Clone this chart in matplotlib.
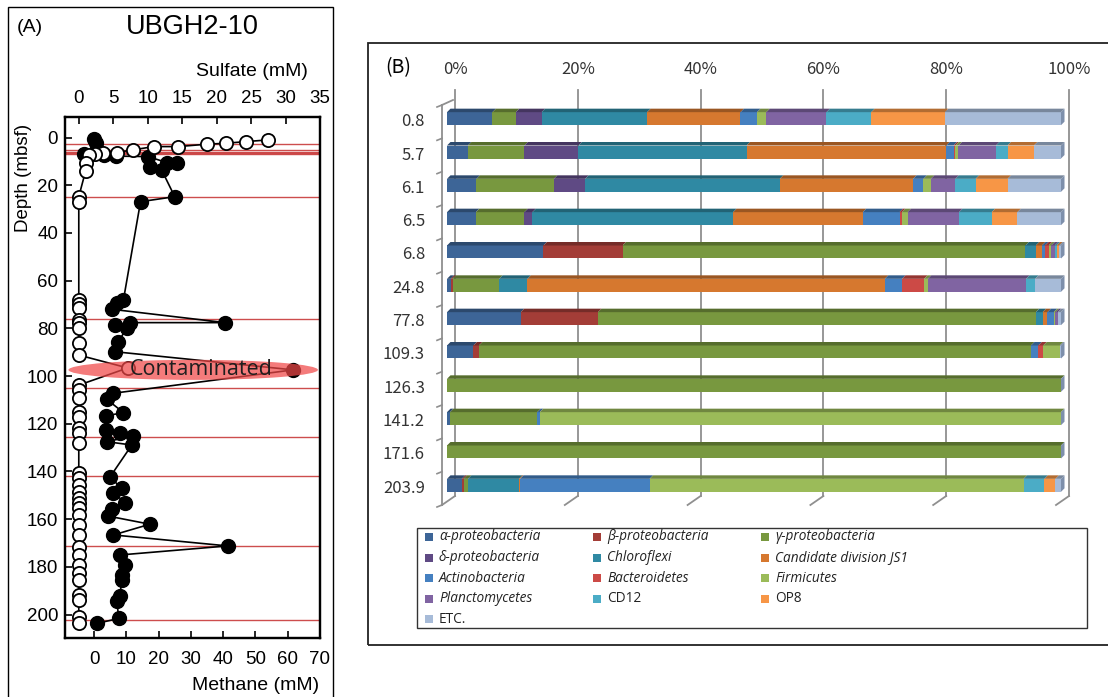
import matplotlib
matplotlib.use("Agg")
import matplotlib.pyplot as plt
from matplotlib.patches import Rectangle, Polygon, Ellipse
import numpy as np

W, H = 1108, 697

# ---------------- Panel A data: porewater profiles (UBGH2-10) ----------------
sulfate_depth = [1.0, 1.7, 2.4, 2.8, 3.8, 3.8, 5.2, 6.3, 6.6, 6.9, 7.3, 10.7, 13.9,
                 24.8, 26.9, 68.0, 69.8, 71.5, 76.5, 77.8, 79.8, 86.0, 91.2, 96.6,
                 103.8, 105.8, 109.0, 114.9, 117.0, 121.8, 124.0, 128.0, 140.6, 142.7,
                 145.7, 148.5, 151.2, 153.3, 155.4, 158.3, 162.5, 166.7, 171.5, 175.0,
                 179.2, 182.6, 185.5, 191.8, 193.9, 200.8, 203.6]
sulfate_mM = [27.5, 24.3, 21.4, 18.6, 14.4, 10.9, 7.8, 5.5, 3.5, 2.3, 1.5, 1.0, 1.0,
              0.0, 0.0, 0.0, 0.0, 0.0, 0.0, 0.0, 0.0, 0.0, 0.0, 7.1,
              0.0, 0.0, 0.0, 0.0, 0.0, 0.0, 0.0, 0.0, 0.0, 0.0,
              0.0, 0.0, 0.0, 0.0, 0.0, 0.0, 0.0, 0.0, 0.0, 0.0,
              0.0, 0.0, 0.0, 0.0, 0.0, 0.0, 0.0]

methane_depth = [0.7, 2.5, 7.0, 7.4, 7.8, 8.0, 10.5, 10.8, 12.2, 13.5, 24.8, 26.9,
                 68.1, 69.5, 72.0, 77.6, 77.6, 78.6, 80.0, 85.6, 89.8, 97.4,
                 107.2, 109.7, 115.3, 116.7, 122.6, 123.7, 125.1, 127.5, 128.9,
                 142.4, 147.0, 148.9, 153.1, 155.9, 158.7, 162.1, 166.6, 171.2,
                 175.0, 179.2, 183.4, 185.5, 192.2, 194.2, 201.6, 203.7]
methane_mM = [0.1, 0.5, -3.0, 3.0, 6.9, 16.8, 22.5, 25.6, 17.3, 20.9, 25.0, 14.4,
              9.1, 7.0, 5.5, 40.6, 11.1, 6.5, 10.1, 7.5, 6.5, 61.7,
              6.0, 3.9, 9.1, 3.7, 3.7, 8.0, 12.2, 3.9, 11.7,
              4.9, 8.6, 6.0, 9.7, 5.5, 4.4, 17.3, 6.0, 41.4,
              8.0, 9.6, 8.6, 8.6, 8.0, 7.0, 7.7, 0.8]

# depths of the microbial community samples (red reference lines)
sample_lines = [2.7, 5.4, 5.9, 6.4, 6.9, 24.9, 76.2, 104.8, 125.4, 141.9, 171.2, 202.3]
contaminated_depth = 97.4

# ---------------- Panel B data: community composition (%) ----------------
depth_labels = ["0.8", "5.7", "6.1", "6.5", "6.8", "24.8", "77.8", "109.3",
                "126.3", "141.2", "171.6", "203.9"]
alpha_proteo = [7.4, 3.4, 4.8, 4.7, 15.7, 0.6, 12.0, 4.3, 0, 0.5, 0, 2.4]
beta_proteo = [0, 0, 0, 0, 12.9, 0.3, 12.6, 0.9, 0, 0, 0, 0.3]
gamma_proteo = [3.8, 9.2, 12.6, 7.9, 65.6, 7.6, 71.3, 89.9, 100, 14.2, 100, 0.7]
delta_proteo = [4.2, 8.8, 5.1, 1.3, 0, 0, 0, 0, 0, 0, 0, 0]
chloroflexi = [17.2, 27.4, 31.7, 32.7, 1.7, 4.6, 1.1, 0, 0, 0, 0, 8.3]
js1 = [15.2, 32.5, 21.7, 21.1, 1.0, 58.2, 0.8, 0, 0, 0, 0, 0.2]
actinobacteria = [2.7, 1.2, 1.7, 6.0, 0.5, 2.8, 1.0, 1.2, 0, 0.4, 0, 21.1]
bacteroidetes = [0, 0.3, 0, 0.4, 0.6, 3.6, 0, 0.8, 0, 0, 0, 0]
firmicutes = [1.5, 0.5, 1.2, 0.9, 0.4, 0.6, 0.3, 2.7, 0, 84.9, 0, 60.9]
planctomycetes = [9.8, 6.1, 4.0, 8.4, 0.6, 16.0, 0.4, 0, 0, 0, 0, 0]
cd12 = [7.3, 1.9, 3.3, 5.3, 0.3, 1.5, 0, 0, 0, 0, 0, 3.4]
op8 = [12.0, 4.3, 5.2, 4.2, 0.4, 0, 0, 0, 0, 0, 0, 1.8]
etc_other = [18.9, 4.4, 8.7, 7.1, 0.3, 4.2, 0.5, 0.2, 0, 0, 0, 0.9]

series = [
    ("α-proteobacteria", alpha_proteo, "#3d6597", True),
    ("β-proteobacteria", beta_proteo, "#a33d37", True),
    ("γ-proteobacteria", gamma_proteo, "#78983f", True),
    ("δ-proteobacteria", delta_proteo, "#5f4a84", True),
    ("Chloroflexi", chloroflexi, "#2f89a3", True),
    ("Candidate division JS1", js1, "#d6782f", True),
    ("Actinobacteria", actinobacteria, "#4580c0", True),
    ("Bacteroidetes", bacteroidetes, "#cc4a46", True),
    ("Firmicutes", firmicutes, "#9bbb59", True),
    ("Planctomycetes", planctomycetes, "#8064a2", True),
    ("CD12", cd12, "#4bacc6", False),
    ("OP8", op8, "#f79646", False),
    ("ETC.", etc_other, "#a7bbd8", False),
]

fig = plt.figure(figsize=(W / 100, H / 100), dpi=100)


def fx(px):
    return px / W


def fy(py):
    return 1 - py / H


FA = "Liberation Sans"
FB = ["Noto Sans CJK KR", "DejaVu Sans"]
FL = ["Open Sans", "DejaVu Sans"]

# ======================= Panel A =======================
fig.patches.append(Rectangle((fx(8), fy(705)), fx(325), (705 - 7) / H, fill=False,
                             edgecolor="black", lw=1.0, transform=fig.transFigure))

ax = fig.add_axes([fx(65), fy(638), fx(255), (638 - 117) / H])
ax.set_xlim(-9, 70)
ax.set_ylim(209.8, -8.6)
ax2 = ax.twiny()
ax2.set_xlim(-2.0, 35)

for d in sample_lines:
    ax.axhline(d, color="#c83a3a", lw=1.0, zorder=1, alpha=0.9)

ax.plot(methane_mM, methane_depth, color="black", lw=1.2, marker="o", ms=10,
        mfc="black", mec="black", zorder=3)
ax2.plot(sulfate_mM, sulfate_depth, color="black", lw=1.2, marker="o", ms=9.5,
         mfc="white", mec="black", mew=1.3, zorder=3)

ax2.add_patch(Ellipse((16.6, contaminated_depth), 36.2, 8.4, facecolor="#f04848",
                      edgecolor="none", alpha=0.72, zorder=5))
ax2.text(17.8, contaminated_depth, "Contaminated", fontsize=15.5, family=FL,
         color="#1e1e1e", ha="center", va="center", zorder=6)

ax.set_xticks(np.arange(0, 71, 10))
ax.set_yticks(np.arange(0, 201, 20))
ax2.set_xticks(np.arange(0, 36, 5))
ax.tick_params(axis="x", direction="in", top=False, bottom=True, length=5,
               width=1.2, pad=9, labelsize=13.5)
ax.tick_params(axis="y", direction="in", left=True, right=False, length=5,
               width=1.2, pad=5, labelsize=13.5)
ax2.tick_params(axis="x", direction="in", top=True, bottom=False, length=5,
                width=1.2, pad=7, labelsize=13.5)
for a in (ax, ax2):
    for lab in a.get_xticklabels() + a.get_yticklabels():
        lab.set_family(FA)
    for s in a.spines.values():
        s.set_linewidth(1.6)

fig.text(fx(30), fy(28), "(A)", fontsize=14, family=FA, ha="center", va="center")
fig.text(fx(192), fy(27), "UBGH2-10", fontsize=19.5, family=FA, ha="center", va="center")
fig.text(fx(252), fy(72), "Sulfate (mM)", fontsize=14, family=FA, ha="center", va="center")
fig.text(fx(256), fy(685), "Methane (mM)", fontsize=14, family=FA, ha="center", va="center")
fig.text(fx(24), fy(178), "Depth (mbsf)", fontsize=13.5, family=FA, ha="center",
         va="center", rotation=90)

# ======================= Panel B =======================
fig.patches.append(Rectangle((fx(368), fy(645)), fx(760), (645 - 43) / H, fill=False,
                             edgecolor="#222222", lw=1.3, transform=fig.transFigure))

axB = fig.add_axes([fx(442), fy(505), fx(614), 400 / H])
axB.set_xlim(0, 100)
axB.set_ylim(11.5, -0.5)
axB.axis("off")

kx = 100 / 614.0   # percent per pixel
ky = 12 / 400.0    # category units per pixel
grid_c = "#8f8f8f"

# back wall gridlines and floor edges
for p in range(0, 101, 20):
    xb = p + 13 * kx
    axB.plot([xb, xb], [-0.95, 11.23], color=grid_c, lw=1.3, clip_on=False, zorder=1)
    axB.plot([xb, p], [11.23, 11.5], color=grid_c, lw=1.3, clip_on=False, zorder=1)
    axB.text(xb, -0.5 - 35 * ky, f"{p}%", fontsize=12, family=FB, color="#333333",
             ha="center", va="center", clip_on=False)
# left wall
axB.plot([0, 0], [-0.5, 11.5], color=grid_c, lw=1.3, clip_on=False, zorder=1)
axB.plot([0, 11 * kx], [-0.5, -0.5 - 5 * ky], color=grid_c, lw=1.3, clip_on=False, zorder=1)
for k in range(13):
    yb = -0.5 + k
    axB.plot([-5 * kx, 0], [yb + 2 * ky, yb], color=grid_c, lw=1.2, clip_on=False)

n = len(depth_labels)
rows = np.arange(n)
bar_h = 13 * ky
yc = rows - 3 * ky
x_shift = 5 * kx
dpx = 3.5


def darker(c, f=0.72):
    r, g, b = matplotlib.colors.to_rgb(c)
    return (r * f, g * f, b * f)


left = np.zeros(n)
for name, vals, col, _ in series:
    vals = np.asarray(vals, dtype=float)
    bars = axB.barh(yc, vals, left=left + x_shift, height=bar_h, color=col,
                    edgecolor="none", zorder=3)
    for b in bars:
        b.set_clip_on(False)
    for i in range(n):
        if vals[i] <= 0:
            continue
        x0 = left[i] + x_shift
        x1 = x0 + vals[i]
        top = yc[i] - bar_h / 2
        axB.add_patch(Polygon([(x0, top), (x1, top), (x1 + dpx * kx, top - dpx * ky),
                               (x0 + dpx * kx, top - dpx * ky)], closed=True,
                              facecolor=darker(col), edgecolor="none", zorder=4,
                              clip_on=False))
    left = left + vals

# right end caps
for i in range(n):
    x1 = left[i] + x_shift
    top = yc[i] - bar_h / 2
    bot = yc[i] + bar_h / 2
    axB.add_patch(Polygon([(x1, top), (x1, bot), (x1 + dpx * kx, bot - dpx * ky),
                           (x1 + dpx * kx, top - dpx * ky)], closed=True,
                          facecolor="#7d8fab", edgecolor="none", zorder=4,
                          clip_on=False))

for i, lab in enumerate(depth_labels):
    axB.text(-17 * kx, i, lab, fontsize=12, family=FB, color="#333333",
             ha="right", va="center", clip_on=False)

fig.text(fx(398), fy(68), "(B)", fontsize=14, family=FB, ha="center", va="center")

# legend
fig.patches.append(Rectangle((fx(417), fy(628)), fx(670), 100 / H, fill=False,
                             edgecolor="#333333", lw=1.0, transform=fig.transFigure))
col_x = [429, 597, 765]
for idx, (name, vals, col, ital) in enumerate(series):
    r, c = divmod(idx, 3)
    xs = col_x[c]
    ys = 537 + 20.6 * r
    fig.patches.append(Rectangle((fx(xs - 4), fy(ys + 4)), fx(8), 8 / H, facecolor=col,
                                 edgecolor="none", transform=fig.transFigure))
    fig.text(fx(xs + 10), fy(ys), name, fontsize=9.8, family=FL,
             style="italic" if ital else "normal", color="#222222",
             ha="left", va="center")

fig.savefig("out.png", dpi=100)
